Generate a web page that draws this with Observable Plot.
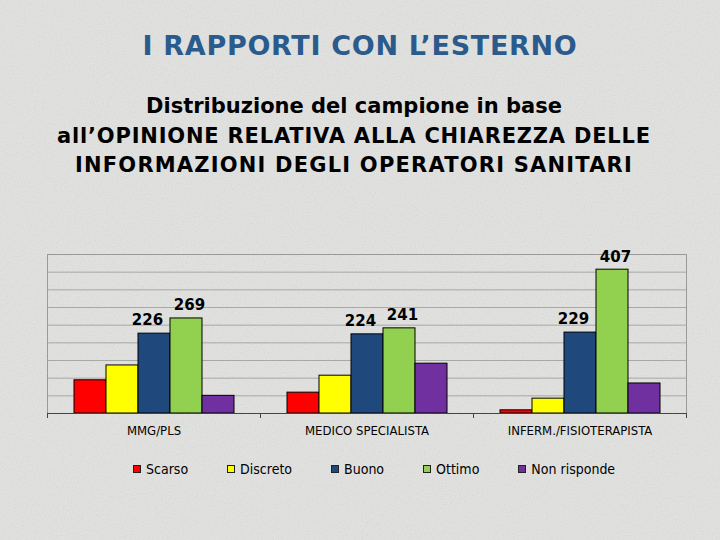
<!DOCTYPE html>
<html>
<head>
<meta charset="utf-8">
<script src="https://cdn.jsdelivr.net/npm/d3@7"></script>
<script src="https://cdn.jsdelivr.net/npm/@observablehq/plot@0.6"></script>
<style>
  html, body { margin: 0; padding: 0; }
  body { width: 720px; height: 540px; background-color: #e3e3e1; position: relative; overflow: hidden; font-family: "DejaVu Sans", sans-serif; }
  #texture { position: absolute; left: 0; top: 0; width: 720px; height: 540px; }
  #title { position: absolute; top: 30px; left: 0; width: 720px; text-align: center; font: bold 27px "DejaVu Sans", sans-serif; letter-spacing: 0.7px; color: #2b5b8d; }
  #subtitle { position: absolute; top: 92px; left: -6px; width: 720px; text-align: center; font: bold 21px/29.5px "DejaVu Sans", sans-serif; color: #000; }
  #subtitle .wide { letter-spacing: 0.8px; }
  #subtitle .wider { letter-spacing: 1.2px; }
  #chart { position: absolute; top: 200px; left: 0; }
  #legend { position: absolute; top: 461px; left: 133px; display: flex; gap: 39px; font: 14px "DejaVu Sans Condensed", sans-serif; color: #000; }
  #legend .item { display: flex; align-items: center; gap: 5px; }
  #legend .sw { width: 8px; height: 8px; border: 1px solid #222; box-sizing: border-box; }
</style>
</head>
<body>
<svg id="texture" width="720" height="540">
  <filter id="noise">
    <feTurbulence type="fractalNoise" baseFrequency="0.9" numOctaves="2" seed="3"/>
    <feColorMatrix type="saturate" values="0"/>
    <feComponentTransfer><feFuncA type="table" tableValues="0 0.22"/></feComponentTransfer>
  </filter>
  <rect width="720" height="540" filter="url(#noise)"/>
</svg>
<div id="title">I RAPPORTI CON L’ESTERNO</div>
<div id="subtitle">Distribuzione del campione in base<br><span class="wide">all’OPINIONE RELATIVA ALLA CHIAREZZA DELLE</span><br><span class="wider">INFORMAZIONI DEGLI OPERATORI SANITARI</span></div>
<div id="chart"></div>
<div id="legend"></div>
<script>
const categories = ["MMG/PLS", "MEDICO SPECIALISTA", "INFERM./FISIOTERAPISTA"];
const seriesNames = ["Scarso", "Discreto", "Buono", "Ottimo", "Non risponde"];
const seriesColors = ["#ff0000", "#ffff00", "#1f497d", "#92d050", "#7030a0"];
const scarso = [94, 59, 9];
const discreto = [136, 107, 42];
const buono = [226, 224, 229];
const ottimo = [269, 241, 407];
const nonRisponde = [50, 141, 85];
const yTicks = [0, 50, 100, 150, 200, 250, 300, 350, 400, 450];

const seriesValues = [scarso, discreto, buono, ottimo, nonRisponde];
const rows = [];
categories.forEach((c, i) => {
  seriesNames.forEach((s, j) => rows.push({category: c, series: s, value: seriesValues[j][i]}));
});

function boundaryTicks(index, scales, values, dims) {
  const g = d3.create("svg:g").attr("stroke", "#444").attr("stroke-width", 1);
  const y0 = dims.height - dims.marginBottom;
  for (const x of [dims.marginLeft, dims.width - dims.marginRight]) {
    g.append("line").attr("x1", x + 0.5).attr("x2", x + 0.5).attr("y1", y0).attr("y2", y0 + 5);
  }
  return g.node();
}

const labelStyle = {fx: "category", x: "series", y: "value", text: d => String(d.value), dy: -13, fontSize: 15, fontWeight: "bold", fill: "#000", fontFamily: "DejaVu Sans, sans-serif"};

const chart = Plot.plot({
  width: 720,
  height: 240,
  marginLeft: 46,
  marginRight: 34,
  marginTop: 54,
  marginBottom: 27,
  style: {background: "transparent", fontFamily: "DejaVu Sans Condensed, sans-serif", overflow: "visible"},
  fx: {domain: categories, padding: 0, label: null},
  x: {domain: seriesNames, paddingInner: 0, paddingOuter: 0.75, axis: null},
  y: {domain: [0, 450], axis: null},
  color: {domain: seriesNames, range: seriesColors},
  marks: [
    Plot.gridY(yTicks, {stroke: "#a8a8a8", strokeOpacity: 1}),
    Plot.frame({facet: "super", stroke: "#9a9a9a"}),
    Plot.barY(rows, {fx: "category", x: "series", y: "value", fill: "series", stroke: "#000", strokeWidth: 1}),
    Plot.ruleY([0], {stroke: "#444"}),
    boundaryTicks,
    Plot.text(rows.filter(d => d.series === "Buono"), {...labelStyle, dx: -7}),
    Plot.text(rows.filter(d => d.series === "Ottimo"), {...labelStyle, dx: 3}),
    Plot.axisFx({anchor: "bottom", tickSize: 0, tickPadding: 12, fontSize: 13, label: null})
  ]
});
document.getElementById("chart").appendChild(chart);

const legend = document.getElementById("legend");
seriesNames.forEach((s, i) => {
  const item = document.createElement("div");
  item.className = "item";
  const sw = document.createElement("div");
  sw.className = "sw";
  sw.style.background = seriesColors[i];
  const t = document.createElement("span");
  t.textContent = s;
  item.appendChild(sw);
  item.appendChild(t);
  legend.appendChild(item);
});
</script>
</body>
</html>
